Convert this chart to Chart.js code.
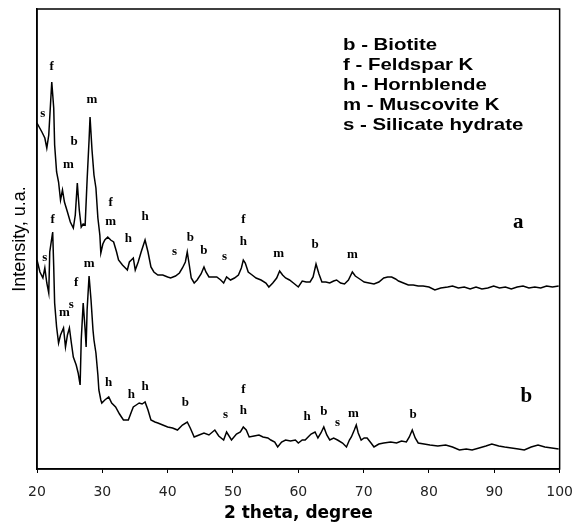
<!DOCTYPE html>
<html>
<head>
<meta charset="utf-8">
<script src="https://cdn.jsdelivr.net/npm/chart.js@4.4.0/dist/chart.umd.min.js"></script>
<style>
body { margin: 0; background: #fff; }
</style>
</head>
<body>
<canvas id="xrd" width="584" height="526"></canvas>
<script>
// 2 theta (degree) and intensity (arbitrary units)
const thetaA = [
  20.0,20.75,21.2,21.5,21.8,22.26,22.56,22.7,23.0,23.3,
  23.6,23.9,24.2,24.66,25.1,25.56,25.86,26.17,26.47,26.77,
  27.07,27.37,27.67,27.97,28.12,28.42,28.72,29.02,29.32,29.62,
  29.77,30.08,30.38,30.83,31.28,31.73,32.18,32.48,33.08,33.53,
  33.83,34.14,34.44,34.74,35.04,35.49,35.94,36.54,36.99,37.44,
  37.89,38.5,39.25,40.0,40.45,41.2,41.8,42.26,42.71,43.0,
  43.31,43.61,44.06,44.51,45.11,45.56,45.86,46.32,46.92,47.52,
  48.12,48.57,49.02,49.62,50.23,50.83,51.28,51.58,51.88,52.33,
  52.93,53.53,54.29,55.04,55.49,56.09,56.69,57.14,57.59,58.05,
  58.65,59.25,60.0,60.6,61.2,61.8,62.26,62.71,63.16,63.61,
  64.21,64.81,65.41,65.86,66.47,67.07,67.67,68.27,68.72,69.17,
  69.62,70.08,70.83,71.58,72.33,73.08,73.68,74.29,74.89,75.34,
  76.09,76.84,77.59,78.35,79.1,80.0,80.9,81.8,82.86,83.6,
  84.5,85.4,86.3,87.2,88.1,89.0,89.9,90.8,91.7,92.6,
  93.5,94.4,95.3,96.2,97.1,98.0,98.9,99.85
];
const countsA = [
  346,337,331,321,334,387,361,324,297,287,
  269,279,267,257,247,241,254,286,259,242,
  245,244,289,329,352,319,294,281,251,234,
  216,225,229,232,229,227,217,209,204,201,
  199,207,209,211,199,207,217,229,217,202,
  197,194,194,192,191,193,196,201,207,217,
  204,191,186,189,195,202,197,192,192,192,
  189,186,192,189,191,194,201,209,206,197,
  194,191,189,186,182,186,191,198,194,191,
  189,186,182,188,187,187,192,205,195,187,
  187,186,188,189,186,185,189,197,193,191,
  189,187,186,185,187,191,192,192,190,188,
  186,184,184,183,183,182,179,181,182,183,
  181,182,180,182,180,181,183,181,182,180,
  182,183,181,182,181,183,182,183
];
const thetaB = [
  20.0,20.45,20.9,21.2,21.5,21.8,21.95,22.4,22.56,22.7,
  23.0,23.3,23.6,24.06,24.36,24.66,24.96,25.26,25.56,26.0,
  26.3,26.6,26.77,27.07,27.37,27.52,27.67,27.97,28.27,28.57,
  28.72,29.02,29.32,29.47,29.77,29.92,30.38,30.98,31.43,32.03,
  32.63,33.23,33.98,34.44,34.74,35.19,35.64,36.09,36.54,36.99,
  37.44,38.05,38.5,39.25,40.0,40.75,41.5,42.26,43.0,43.46,
  44.06,44.81,45.56,46.32,47.22,47.82,48.57,49.02,49.77,50.53,
  51.13,51.58,52.03,52.48,53.23,53.98,54.59,55.34,55.79,56.39,
  56.84,57.44,58.05,58.8,59.55,60.0,60.6,61.05,61.5,61.95,
  62.56,63.0,63.46,63.9,64.36,64.81,65.41,66.0,66.77,67.37,
  67.82,68.12,68.57,68.87,69.17,69.62,70.08,70.53,71.13,71.58,
  72.33,73.08,74.14,75.04,75.79,76.54,76.99,77.44,77.89,78.35,
  79.25,80.15,81.35,82.56,83.6,84.66,85.71,86.6,87.67,88.72,
  89.62,90.68,91.58,92.63,93.68,94.59,95.64,96.69,97.74,98.8,99.85
];
const countsB = [
  209,197,191,201,186,176,217,237,202,166,
  142,126,134,141,122,134,141,126,112,104,
  96,84,129,166,139,122,159,193,169,139,
  129,116,94,79,69,66,69,72,66,62,
  55,49,49,57,62,64,66,65,67,59,
  49,47,46,44,42,41,39,44,47,41,
  32,34,36,34,39,33,29,37,29,35,
  37,42,39,32,33,34,32,31,29,27,
  22,27,29,28,29,26,29,29,32,35,
  37,31,36,42,34,29,31,29,26,22,
  29,32,39,44,36,29,31,31,26,22,
  25,26,27,26,28,27,32,39,31,26,
  25,24,23,24,22,19,20,19,21,23,
  25,23,22,21,20,19,22,24,22,21,20
];

// phase letters placed over the peaks
const peakThetaA = [20.9,22.26,28.42,25.7,24.8,31.28,31.28,36.54,34.0,41.05,43.46,45.56,48.72,51.58,51.58,56.99,62.56,68.27];
const peakCountsA = [355,402,369,327,304,266,247,252,230,217,231,218,212,249,227,215,224,214];
const peakPhaseA = ['s','f','m','b','m','f','m','h','h','s','b','b','s','f','h','m','b','m'];
const peakThetaB = [21.2,22.4,24.2,25.26,26.0,27.97,30.98,34.44,36.54,42.71,48.87,51.58,51.58,61.35,63.9,66.0,68.42,77.59];
const peakCountsB = [211,249,156,164,186,205,86,74,82,66,54,79,58,52,57,46,55,54];
const peakPhaseB = ['s','f','m','s','f','m','h','h','h','b','s','f','h','h','b','s','m','b'];

const curveTags = ['a', 'b'];
const curveTagTheta = [93.68, 94.89];
const curveTagCounts = [246, 72];

const phaseLegend = ['b - Biotite', 'f - Feldspar K', 'h - Hornblende', 'm - Muscovite K', 's - Silicate hydrate'];
const xTicks = [20, 30, 40, 50, 60, 70, 80, 90, 100];

function toPoints(xs, ys) {
  return xs.map((x, i) => ({ x: x, y: ys[i] }));
}

const annotate = {
  id: 'annotate',
  afterDatasetsDraw(chart) {
    const { ctx, chartArea: a, scales: { x, y } } = chart;
    ctx.save();
    ctx.strokeStyle = '#000';
    ctx.lineWidth = 1.5;
    ctx.strokeRect(a.left, a.top, a.right - a.left, a.bottom - a.top);

    ctx.fillStyle = '#000';
    ctx.textAlign = 'center';
    ctx.textBaseline = 'middle';
    ctx.font = 'bold 13px "Liberation Serif"';
    peakPhaseA.forEach((t, i) => ctx.fillText(t, x.getPixelForValue(peakThetaA[i]), y.getPixelForValue(peakCountsA[i])));
    peakPhaseB.forEach((t, i) => ctx.fillText(t, x.getPixelForValue(peakThetaB[i]), y.getPixelForValue(peakCountsB[i])));

    ctx.font = 'bold 21px "Liberation Serif"';
    curveTags.forEach((t, i) => ctx.fillText(t, x.getPixelForValue(curveTagTheta[i]), y.getPixelForValue(curveTagCounts[i])));

    // phase key, top right
    ctx.textAlign = 'left';
    ctx.font = 'bold 17px "Liberation Sans"';
    phaseLegend.forEach((t, i) => {
      ctx.save();
      ctx.translate(343, 45 + i * 20.2);
      ctx.scale(1.2, 1);
      ctx.fillText(t, 0, 0);
      ctx.restore();
    });
    ctx.restore();
  }
};

new Chart(document.getElementById('xrd'), {
  type: 'line',
  data: {
    datasets: [
      { data: toPoints(thetaA, countsA), borderColor: '#000', borderWidth: 1.5, pointRadius: 0, tension: 0 },
      { data: toPoints(thetaB, countsB), borderColor: '#000', borderWidth: 1.5, pointRadius: 0, tension: 0 }
    ]
  },
  options: {
    responsive: false,
    animation: false,
    devicePixelRatio: 1,
    layout: { padding: { top: 9, right: 15, left: 0, bottom: 0 } },
    plugins: { legend: { display: false }, tooltip: { enabled: false } },
    scales: {
      x: {
        type: 'linear',
        min: 20,
        max: 100,
        afterBuildTicks: s => { s.ticks = xTicks.map(v => ({ value: v })); },
        afterFit: s => { s.height = 57; },
        grid: { display: true, drawOnChartArea: false, drawTicks: true, tickLength: 4, color: '#000' },
        border: { display: true, color: '#000', width: 1.5 },
        ticks: { padding: 11, color: '#222', font: { family: 'DejaVu Sans', size: 14 }, maxRotation: 0 },
        title: { display: true, text: '2 theta, degree', color: '#000', font: { family: 'DejaVu Sans', size: 17, weight: 'bold' }, padding: { top: 3, bottom: 2 } }
      },
      y: {
        min: 0,
        max: 460,
        afterFit: s => { s.width = 37; },
        grid: { display: false },
        border: { display: true, color: '#000', width: 1.5 },
        ticks: { display: false },
        title: { display: true, text: 'Intensity, u.a.', color: '#000', font: { family: 'Liberation Sans', size: 18 }, padding: { top: 9, bottom: 6 } }
      }
    }
  },
  plugins: [annotate]
});
</script>
</body>
</html>
